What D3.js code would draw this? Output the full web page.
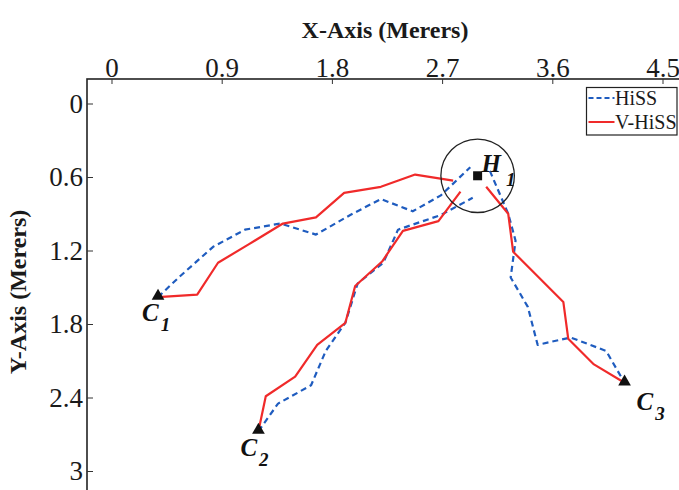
<!DOCTYPE html>
<html>
<head>
<meta charset="utf-8">
<script src="https://cdn.jsdelivr.net/npm/d3@7/dist/d3.min.js"></script>
<style>
  html, body { margin: 0; padding: 0; background: #fff; }
  svg { display: block; font-family: "Liberation Serif", "Times New Roman", serif; }
</style>
</head>
<body>
<svg id="chart" width="679" height="490"></svg>
<script>
// Axis ticks
const xTicks = [0, 0.9, 1.8, 2.7, 3.6, 4.5];
const xTickLabels = ["0", "0.9", "1.8", "2.7", "3.6", "4.5"];
const yTicks = [0, 0.6, 1.2, 1.8, 2.4, 3];
const yTickLabels = ["0", "0.6", "1.2", "1.8", "2.4", "3"];

// Hub and corner nodes (metres)
const hub = { name: "H", sub: "1", x: 2.99, y: 0.59 };
const corners = [
  { name: "C", sub: "1", x: 0.38, y: 1.58 },
  { name: "C", sub: "2", x: 1.20, y: 2.675 },
  { name: "C", sub: "3", x: 4.19, y: 2.28 }
];

// HiSS trajectories (x, y in metres)
const hissC1 = [[0.38,1.58],[0.56,1.41],[0.83,1.17],[1.09,1.03],[1.38,0.98],[1.67,1.07],[1.95,0.91],[2.20,0.78],[2.46,0.88],[2.69,0.75],[2.93,0.52]];
const hissC2 = [[1.20,2.675],[1.36,2.45],[1.63,2.30],[1.75,2.02],[1.91,1.79],[2.01,1.47],[2.22,1.30],[2.34,1.03],[2.69,0.91],[2.95,0.77]];
const hissC3 = [[3.09,0.55],[3.24,0.90],[3.30,1.12],[3.26,1.42],[3.40,1.66],[3.48,1.97],[3.75,1.91],[4.04,2.02],[4.19,2.28]];

// V-HiSS trajectories (x, y in metres)
const vhissC1 = [[0.38,1.58],[0.70,1.56],[0.87,1.30],[1.12,1.15],[1.40,0.98],[1.67,0.93],[1.90,0.73],[2.20,0.68],[2.48,0.58],[2.79,0.63]];
const vhissC2 = [[1.20,2.675],[1.26,2.39],[1.50,2.23],[1.68,1.97],[1.91,1.79],[1.99,1.49],[2.21,1.29],[2.38,1.04],[2.67,0.96],[2.85,0.72]];
const vhissC3 = [[3.06,0.68],[3.24,0.90],[3.28,1.21],[3.69,1.62],[3.73,1.92],[3.94,2.13],[4.19,2.28]];

const hubRadius = 0.30;

const series = [
  { name: "HiSS", color: "#1f5cbf", dash: "6,4", paths: [hissC1, hissC2, hissC3] },
  { name: "V-HiSS", color: "#f02a2a", dash: null, paths: [vhissC1, vhissC2, vhissC3] }
];

const svg = d3.select("#chart");
const margin = { left: 87, top: 79 };
const plotW = 600, plotH = 416.5;

const x = d3.scaleLinear().domain([-0.2, 4.7]).range([0, plotW]);
const y = d3.scaleLinear().domain([-0.2, 3.2]).range([0, plotH]);

const g = svg.append("g").attr("transform", `translate(${margin.left},${margin.top})`);

// Frame
g.append("rect")
  .attr("x", 0).attr("y", 0).attr("width", plotW).attr("height", plotH)
  .attr("fill", "none").attr("stroke", "#222").attr("stroke-width", 1.6);

const fmtX = (d) => xTickLabels[xTicks.indexOf(d)];
const fmtY = (d) => yTickLabels[yTicks.indexOf(d)];

function styleAxis(sel) {
  sel.select(".domain").remove();
  sel.selectAll(".tick line").attr("stroke", "#333").attr("stroke-width", 1);
  sel.selectAll(".tick text").attr("fill", "#1a1a1a")
    .style("font-family", '"Liberation Serif", "Times New Roman", serif')
    .style("font-size", "27px");
}

g.append("g")
  .call(d3.axisTop(x).tickValues(xTicks).tickFormat(fmtX).tickSizeInner(-5).tickSizeOuter(0).tickPadding(2))
  .call(styleAxis);

g.append("g").attr("transform", `translate(0,${plotH})`)
  .call(d3.axisBottom(x).tickValues(xTicks).tickFormat("").tickSizeInner(-5).tickSizeOuter(0))
  .call(styleAxis);

g.append("g")
  .call(d3.axisLeft(y).tickValues(yTicks).tickFormat(fmtY).tickSizeInner(-6).tickSizeOuter(0).tickPadding(4))
  .call(styleAxis);

g.append("g").attr("transform", `translate(${plotW},0)`)
  .call(d3.axisRight(y).tickValues(yTicks).tickFormat("").tickSizeInner(-6).tickSizeOuter(0))
  .call(styleAxis);

// Axis titles
svg.append("text")
  .attr("x", 385).attr("y", 38)
  .attr("text-anchor", "middle")
  .style("font-size", "24px").style("font-weight", "bold").attr("fill", "#1a1a1a")
  .text("X-Axis (Merers)");

svg.append("text")
  .attr("transform", "translate(26,292) rotate(-90)")
  .attr("text-anchor", "middle")
  .style("font-size", "24px").style("font-weight", "bold").attr("fill", "#1a1a1a")
  .text("Y-Axis (Merers)");

// Trajectories
const line = d3.line().x(d => x(d[0])).y(d => y(d[1]));
series.forEach(s => {
  s.paths.forEach(p => {
    g.append("path")
      .attr("d", line(p))
      .attr("fill", "none")
      .attr("stroke", s.color)
      .attr("stroke-width", 2.2)
      .attr("stroke-dasharray", s.dash)
      .attr("stroke-linejoin", "round");
  });
});

// Hub marker and coverage circle
g.append("circle")
  .attr("cx", x(hub.x)).attr("cy", y(hub.y))
  .attr("r", x(hubRadius) - x(0))
  .attr("fill", "none").attr("stroke", "#222").attr("stroke-width", 1.3);

g.append("rect")
  .attr("x", x(hub.x) - 4.5).attr("y", y(hub.y) - 4.5)
  .attr("width", 9).attr("height", 9)
  .attr("fill", "#111");

const hubLabel = g.append("text")
  .attr("x", x(hub.x) + 4).attr("y", y(hub.y) - 4)
  .style("font-style", "italic").style("font-weight", "bold").attr("fill", "#111");
hubLabel.append("tspan").style("font-size", "25px").text(hub.name);
hubLabel.append("tspan").style("font-size", "19px").attr("dx", 5).attr("dy", 14).text(hub.sub);

// Corner markers
const tri = d3.symbol().type(d3.symbolTriangle).size(70);
corners.forEach((c, i) => {
  g.append("path")
    .attr("d", tri())
    .attr("transform", `translate(${x(c.x)},${y(c.y) - 1})`)
    .attr("fill", "#111");
  const off = [[-16, 24], [-18, 25], [12, 27]][i];
  const t = g.append("text")
    .attr("x", x(c.x) + off[0]).attr("y", y(c.y) + off[1])
    .style("font-style", "italic").style("font-weight", "bold").attr("fill", "#111");
  t.append("tspan").style("font-size", "25px").text(c.name);
  t.append("tspan").style("font-size", "19px").attr("dx", 2).attr("dy", 10).text(c.sub);
});

// Legend
const lg = svg.append("g").attr("transform", "translate(586.5,87.5)");
lg.append("rect").attr("width", 90.5).attr("height", 47.5)
  .attr("fill", "#fff").attr("stroke", "#222").attr("stroke-width", 1.2);
series.forEach((s, i) => {
  const ly = 10.5 + i * 24;
  lg.append("line")
    .attr("x1", 2).attr("x2", 28).attr("y1", ly).attr("y2", ly)
    .attr("stroke", s.color).attr("stroke-width", 2)
    .attr("stroke-dasharray", s.dash ? "5,3" : null);
  lg.append("text")
    .attr("x", 28.5).attr("y", ly + 6.5)
    .style("font-size", "20px").attr("fill", "#1a1a1a")
    .text(s.name);
});
</script>
</body>
</html>
